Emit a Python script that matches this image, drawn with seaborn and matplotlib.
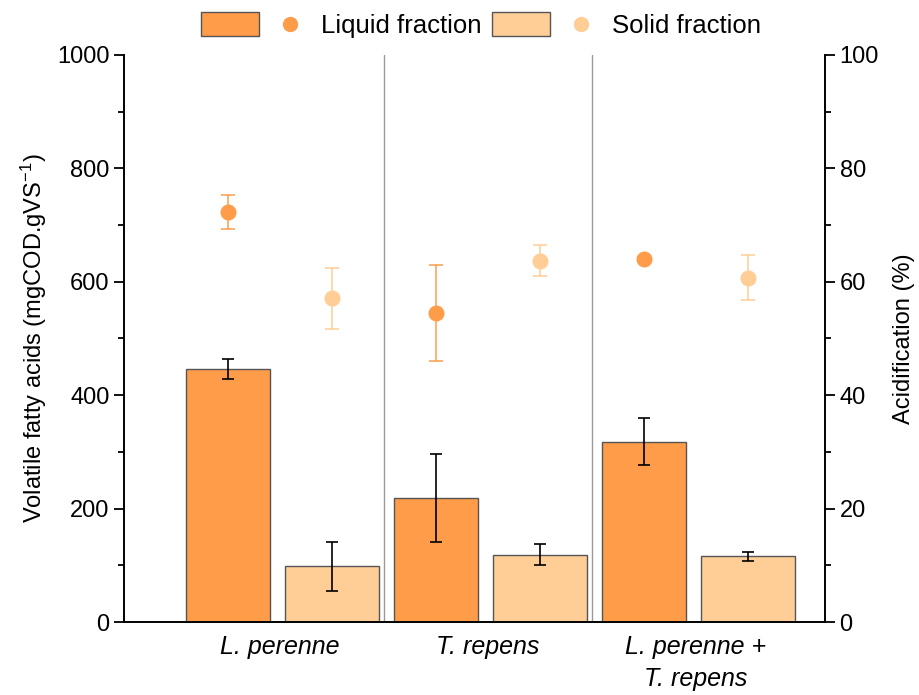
import numpy as np
import pandas as pd
import matplotlib
matplotlib.use("Agg")
import matplotlib.pyplot as plt
import seaborn as sns
from matplotlib.patches import Patch, Rectangle
from matplotlib.lines import Line2D
from matplotlib.legend_handler import HandlerBase
from matplotlib.ticker import MultipleLocator

# Substrates and fractions
substrates = ["L. perenne", "T. repens", "L. perenne +\nT. repens"]
fractions = ["Liquid fraction", "Solid fraction"]

# Volatile fatty acids (mgCOD.gVS-1), mean and standard deviation
vfa_liquid = [446, 219, 318]
vfa_liquid_sd = [17, 78, 42]
vfa_solid = [98, 119, 116]
vfa_solid_sd = [43, 18, 8]

# Acidification (%), mean and standard deviation
acid_liquid = [72.3, 54.5, 64.0]
acid_liquid_sd = [3.0, 8.4, 0.4]
acid_solid = [57.1, 63.7, 60.7]
acid_solid_sd = [5.4, 2.7, 4.0]

liquid_color = "#FF9C4A"
solid_color = "#FFCD95"
edge_color = "#555555"

sns.set_style("ticks")
plt.rcParams["font.family"] = ["Liberation Sans", "DejaVu Sans"]
plt.rcParams["mathtext.default"] = "regular"
for key in ("text.color", "axes.labelcolor", "xtick.color", "ytick.color", "axes.edgecolor"):
    plt.rcParams[key] = "black"

df = pd.DataFrame({
    "substrate": substrates * 2,
    "fraction": [fractions[0]] * 3 + [fractions[1]] * 3,
    "vfa": vfa_liquid + vfa_solid,
})

fig = plt.figure(figsize=(9.2, 6.95), dpi=100)
ax = fig.add_axes([0.1348, 0.105, 0.7619, 0.816])

sns.barplot(data=df, x="substrate", y="vfa", hue="fraction",
            palette=[liquid_color, solid_color], width=1.0, gap=0.1,
            edgecolor=edge_color, linewidth=1.0, saturation=1,
            legend=False, ax=ax, zorder=2)

# liquid bars are slightly narrower than solid ones
for p in ax.containers[0]:
    cx = p.get_x() + p.get_width() / 2
    p.set_width(0.40)
    p.set_x(cx - 0.20)

centers = []
for cont in ax.containers:
    centers.append([p.get_x() + p.get_width() / 2 for p in cont])

ax.errorbar(centers[0], vfa_liquid, yerr=vfa_liquid_sd, fmt="none",
            ecolor="black", elinewidth=1.2, capsize=4, capthick=1.2, zorder=3)
ax.errorbar(centers[1], vfa_solid, yerr=vfa_solid_sd, fmt="none",
            ecolor="black", elinewidth=1.2, capsize=4, capthick=1.2, zorder=3)

for xs in (0.5, 1.5):
    ax.axvline(xs, color="#9a9a9a", lw=1.0, zorder=1)

ax.set_xlim(-0.75, 2.62)
ax.set_ylim(0, 1000)
ax.yaxis.set_major_locator(MultipleLocator(200))
ax.yaxis.set_minor_locator(MultipleLocator(100))
ax.set_xlabel("")
ax.set_ylabel("Volatile fatty acids (mgCOD.gVS$^{-1}$)", fontsize=17, labelpad=6)
ax.tick_params(axis="y", which="major", length=7, width=1.3, labelsize=17, direction="out")
ax.tick_params(axis="y", which="minor", length=4, width=1.3, direction="out")
ax.tick_params(axis="x", length=0, labelsize=18, pad=9)
for lab in ax.get_xticklabels():
    lab.set_fontstyle("italic")
    lab.set_linespacing(1.45)

ax2 = ax.twinx()
ax2.errorbar(centers[0], acid_liquid, yerr=acid_liquid_sd, fmt="o", color=liquid_color,
             ms=10.5, elinewidth=1.1, capsize=5, capthick=1.1, zorder=4)
ax2.errorbar(centers[1], acid_solid, yerr=acid_solid_sd, fmt="o", color=solid_color,
             ms=10.5, elinewidth=1.1, capsize=5, capthick=1.1, zorder=4)
ax2.set_ylim(0, 100)
ax2.yaxis.set_major_locator(MultipleLocator(20))
ax2.yaxis.set_minor_locator(MultipleLocator(10))
ax2.set_ylabel("Acidification (%)", fontsize=17, labelpad=10)
ax2.tick_params(axis="y", which="major", length=7, width=1.3, labelsize=17, direction="out")
ax2.tick_params(axis="y", which="minor", length=4, width=1.3, direction="out")

for a in (ax, ax2):
    a.spines["top"].set_visible(False)
    for s in ("left", "right", "bottom"):
        a.spines[s].set_linewidth(1.4)
        a.spines[s].set_color("black")
ax.spines["right"].set_visible(False)
ax2.spines["left"].set_visible(False)
ax2.spines["bottom"].set_visible(False)


class FractionHandler(HandlerBase):
    """Bar swatch followed by a dot, for one fraction."""
    def create_artists(self, legend, orig_handle, xdescent, ydescent,
                       width, height, fontsize, trans):
        fc = orig_handle.get_facecolor()
        rect = Rectangle((-xdescent, -ydescent), width * 0.604, height,
                         facecolor=fc, edgecolor=edge_color, lw=1.0, transform=trans)
        dot = Line2D([-xdescent + width * 0.927], [-ydescent + height / 2],
                     marker="o", ms=10, color=fc, ls="none", transform=trans)
        return [rect, dot]


handles = [Patch(facecolor=liquid_color), Patch(facecolor=solid_color)]
fig.legend(handles=handles, labels=fractions,
           handler_map={Patch: FractionHandler()},
           ncol=2, frameon=False, fontsize=18.5,
           handlelength=3.73, handleheight=1.08, handletextpad=0.93,
           columnspacing=0.43, loc="upper center", bbox_to_anchor=(0.523, 1.005),
           borderaxespad=0.2)

fig.savefig("out.png", dpi=100)
